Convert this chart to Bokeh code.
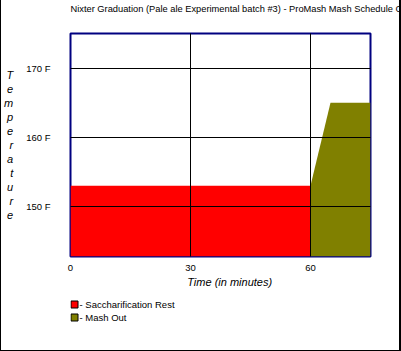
from bokeh.plotting import figure
from bokeh.layouts import column
from bokeh.models import Range1d, FixedTicker
from bokeh.core.properties import value
from bokeh.embed import file_html
from bokeh.resources import INLINE

title_text = "Nixter Graduation (Pale ale Experimental batch #3) - ProMash Mash Schedule C"
step_names = ["Saccharification Rest", "Mash Out"]
step_colors = ["#FF0000", "#808000"]
sacch_time = [0, 60]
sacch_temp = [153, 153]
mashout_time = [60, 65, 75]
mashout_temp = [153, 165, 165]
x_ticks = [0, 30, 60]
y_ticks = [150, 160, 170]
y_tick_labels = {150: "150 F", 160: "160 F", 170: "170 F"}
y_min, y_max = 142.8, 175.0
x_min, x_max = 0, 75

FONT = "Liberation Sans"
MAIN_H = 295
BL, BR = 70, 31

p = figure(width=401, height=MAIN_H, output_backend="svg", toolbar_location=None,
           x_range=Range1d(x_min, x_max), y_range=Range1d(y_min, y_max),
           min_border_left=BL, min_border_right=BR, min_border_top=30,
           min_border_bottom=MAIN_H - 256,
           background_fill_color="white", border_fill_color=None)
p.styles = {"background-color": "white",
            "box-shadow": "inset 1px 0 0 0 black, inset -2px 0 0 0 black"}

p.title.text = title_text + "\n"
p.title.text_font = FONT
p.title.text_font_size = "9.3px"
p.title.text_font_style = "normal"
p.title.text_line_height = 1.5
p.title.align = "left"
p.title.vertical_align = "top"
p.title.standoff = 6
p.title.text_color = "black"

p.varea(x=sacch_time, y1=[y_min] * len(sacch_time), y2=sacch_temp, fill_color=step_colors[0])
p.varea(x=mashout_time, y1=[y_min] * len(mashout_time), y2=mashout_temp, fill_color=step_colors[1])

p.xaxis.ticker = FixedTicker(ticks=x_ticks)
p.yaxis.ticker = FixedTicker(ticks=y_ticks)
p.yaxis.major_label_overrides = y_tick_labels
for ax in (p.xaxis[0], p.yaxis[0]):
    ax.axis_line_color = None
    ax.major_tick_line_color = None
    ax.minor_tick_line_color = None
    ax.major_tick_out = 0
    ax.major_tick_in = 0
    ax.minor_tick_out = 0
    ax.minor_tick_in = 0
    ax.major_label_text_font = FONT
    ax.major_label_text_font_size = "9.5px"
    ax.major_label_text_color = "black"
    ax.axis_label_text_font = FONT
    ax.axis_label_text_font_style = "italic"
    ax.axis_label_text_color = "black"
    ax.axis_label_text_font_size = "11px"
p.xaxis.major_label_standoff = 8
p.yaxis.major_label_standoff = 20
p.xaxis.axis_label = "\u00a0" * 6 + "Time (in minutes)"
p.xaxis.axis_label_standoff = 2
p.yaxis.axis_label = "\n".join(list("Temperature"))
p.yaxis.axis_label_orientation = "horizontal"
p.yaxis.axis_label_text_line_height = 1.17
p.yaxis.axis_label_standoff = 10

for g in (p.xgrid[0], p.ygrid[0]):
    g.grid_line_color = "black"
    g.grid_line_width = 1
    g.level = "overlay"

p.outline_line_color = "#000080"
p.outline_line_width = 2

# legend strip below the chart (pixel-unit ranges, frame aligned with the chart frame)
LEG_H = 351 - MAIN_H
FRAME_W = 401 - BL - BR
lf = figure(width=401, height=LEG_H, output_backend="svg", toolbar_location=None,
            x_range=Range1d(0, FRAME_W), y_range=Range1d(0, LEG_H),
            x_axis_type=None, y_axis_type=None,
            min_border_left=BL, min_border_right=BR, min_border_top=0, min_border_bottom=0,
            background_fill_color=None, border_fill_color=None,
            outline_line_color=None)
lf.grid.visible = False
lf.styles = {"background-color": "white",
             "box-shadow": "inset 1px -1px 0 0 black, inset -2px 0 0 0 black"}

SW, ROW, TOP = 7, 13, LEG_H - 5.5
tops = [TOP - ROW * i for i in range(len(step_names))]
lf.quad(left=[0.5] * len(tops), right=[0.5 + SW] * len(tops), top=tops,
        bottom=[t - SW for t in tops], fill_color=step_colors, line_color="black", line_width=1)
lf.text(x=[9] * len(tops), y=[t - SW / 2 for t in tops],
        text=["- " + n for n in step_names], text_font=value(FONT), text_font_size="9.5px",
        text_baseline="middle", text_align="left", text_color="black")

layout = column(p, lf, spacing=0)
open("out.html", "w").write(file_html(layout, INLINE))
